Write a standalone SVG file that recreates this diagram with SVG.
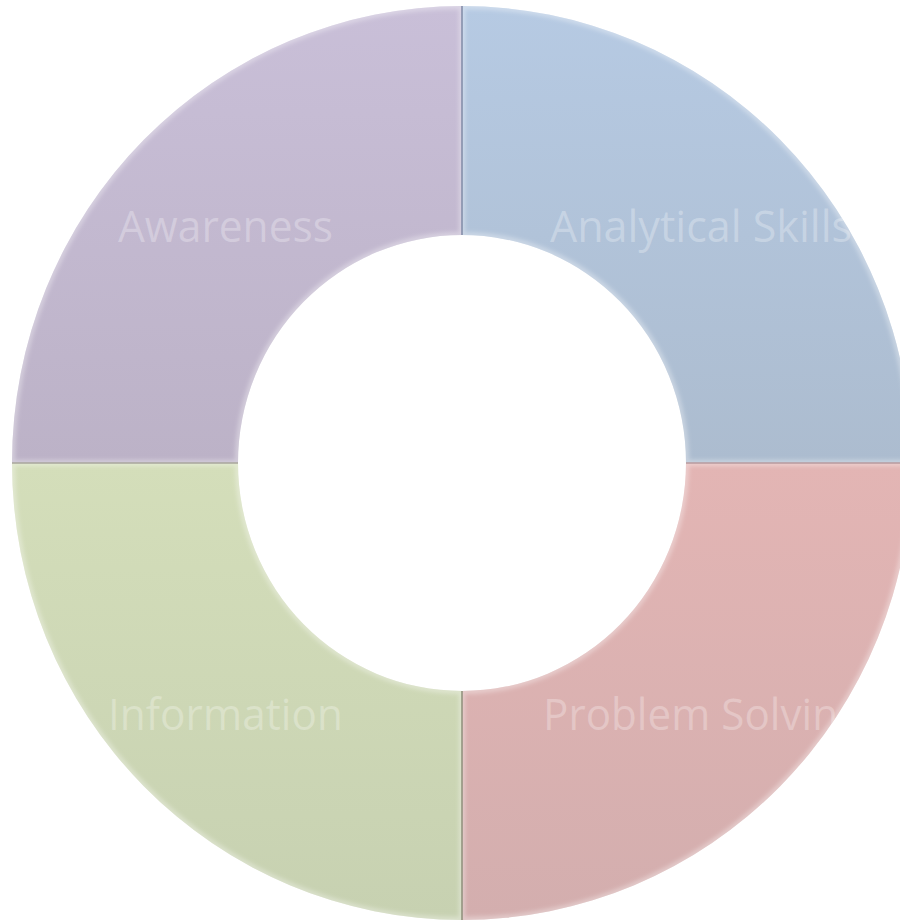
<svg xmlns="http://www.w3.org/2000/svg" width="900" height="920" viewBox="0 0 900 920">
  <defs>
    <linearGradient id="gPurple" gradientUnits="userSpaceOnUse" x1="0" y1="6" x2="0" y2="463">
      <stop offset="0" stop-color="#C9BFD8"/>
      <stop offset="1" stop-color="#BCB2C7"/>
    </linearGradient>
    <linearGradient id="gBlue" gradientUnits="userSpaceOnUse" x1="0" y1="6" x2="0" y2="463">
      <stop offset="0" stop-color="#B6CAE3"/>
      <stop offset="1" stop-color="#ACBCCF"/>
    </linearGradient>
    <linearGradient id="gRed" gradientUnits="userSpaceOnUse" x1="0" y1="463" x2="0" y2="920">
      <stop offset="0" stop-color="#E3B5B4"/>
      <stop offset="1" stop-color="#D3AEAE"/>
    </linearGradient>
    <linearGradient id="gGreen" gradientUnits="userSpaceOnUse" x1="0" y1="463" x2="0" y2="920">
      <stop offset="0" stop-color="#D4DEBA"/>
      <stop offset="1" stop-color="#C7D1B1"/>
    </linearGradient>
    <path id="pPurple" d="M12,463 A450,457 0 0 1 462,6 L462,235 A224,228 0 0 0 238,463 Z"/>
    <path id="pBlue" d="M462,6 A450,457 0 0 1 912,463 L686,463 A224,228 0 0 0 462,235 Z"/>
    <path id="pRed" d="M912,463 A450,457 0 0 1 462,920 L462,691 A224,228 0 0 0 686,463 Z"/>
    <path id="pGreen" d="M462,920 A450,457 0 0 1 12,463 L238,463 A224,228 0 0 0 462,691 Z"/>
    <clipPath id="cPurple"><use href="#pPurple"/></clipPath>
    <clipPath id="cBlue"><use href="#pBlue"/></clipPath>
    <clipPath id="cRed"><use href="#pRed"/></clipPath>
    <clipPath id="cGreen"><use href="#pGreen"/></clipPath>
    <filter id="soft" x="-10%" y="-10%" width="120%" height="120%">
      <feGaussianBlur stdDeviation="2"/>
    </filter>
  </defs>
  <style>
    .hl { fill: none; stroke: #FFFFFF; stroke-opacity: 0.35; stroke-width: 6; filter: url(#soft); }
    .lbl { font-family: "Open Sans", "Liberation Sans", sans-serif; font-size: 43px; fill: #FFFFFF; fill-opacity: 0.28; }
  </style>
  <rect width="900" height="920" fill="#FFFFFF"/>

  <g id="awareness">
    <use href="#pPurple" fill="url(#gPurple)"/>
    <g clip-path="url(#cPurple)">
      <use href="#pPurple" class="hl"/>
      <text class="lbl" x="118" y="242" textLength="215" lengthAdjust="spacingAndGlyphs">Awareness</text>
    </g>
  </g>

  <g id="analytical-skills">
    <use href="#pBlue" fill="url(#gBlue)"/>
    <g clip-path="url(#cBlue)">
      <use href="#pBlue" class="hl"/>
      <text class="lbl" x="550" y="242" textLength="302" lengthAdjust="spacingAndGlyphs">Analytical Skills</text>
    </g>
  </g>

  <g id="problem-solving">
    <use href="#pRed" fill="url(#gRed)"/>
    <g clip-path="url(#cRed)">
      <use href="#pRed" class="hl"/>
      <text class="lbl" x="543" y="730" textLength="318" lengthAdjust="spacingAndGlyphs">Problem Solving</text>
    </g>
  </g>

  <g id="information">
    <use href="#pGreen" fill="url(#gGreen)"/>
    <g clip-path="url(#cGreen)">
      <use href="#pGreen" class="hl"/>
      <text class="lbl" x="108" y="730" textLength="235" lengthAdjust="spacingAndGlyphs">Information</text>
    </g>
  </g>

  <g id="connectors">
    <line x1="462" y1="6" x2="462" y2="235" stroke="#7F8AA6" stroke-width="1.5"/>
    <line x1="462" y1="691" x2="462" y2="920" stroke="#8E8E7A" stroke-width="1.5"/>
    <line x1="12" y1="463" x2="238" y2="463" stroke="#A8A69C" stroke-width="1.5"/>
    <line x1="686" y1="463" x2="912" y2="463" stroke="#B79A9E" stroke-width="1.5"/>
  </g>
</svg>
